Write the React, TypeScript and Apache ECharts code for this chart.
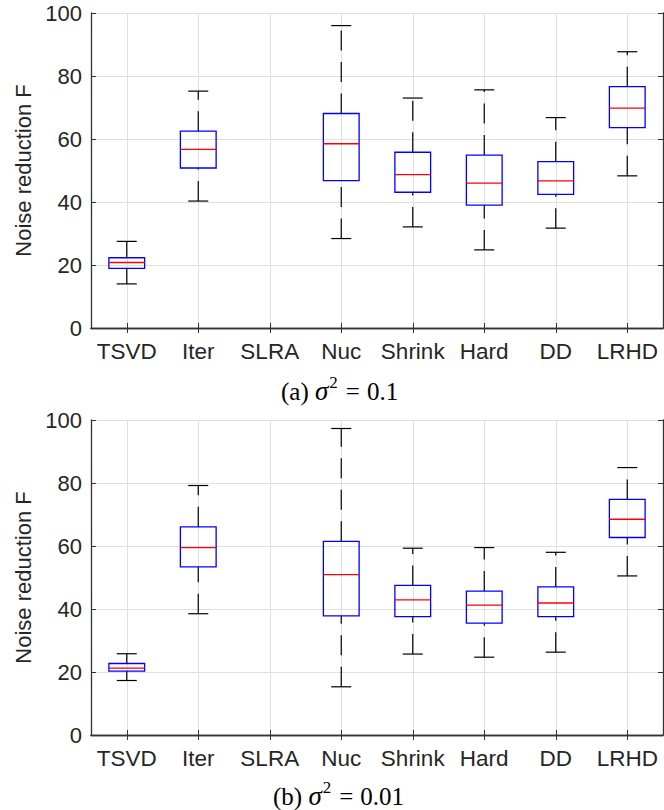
import React, { useEffect, useRef } from "react";
import * as echarts from "echarts";

// Methods compared along the x axis
const categories = ["TSVD", "Iter", "SLRA", "Nuc", "Shrink", "Hard", "DD", "LRHD"];
const yTicks = [0, 20, 40, 60, 80, 100];

// Panel (a): sigma^2 = 0.1 — whisker ends, quartiles and medians per method (SLRA has no data)
const lowA = [14.0, 40.3, null, 28.4, 32.1, 24.8, 31.7, 48.3];
const q1A = [18.9, 50.8, null, 46.8, 43.1, 39.0, 42.4, 63.6];
const medA = [20.8, 56.7, null, 58.5, 48.7, 46.0, 46.7, 69.8];
const q3A = [22.3, 62.5, null, 68.1, 55.8, 54.9, 52.8, 76.6];
const highA = [27.5, 75.2, null, 96.0, 73.0, 75.6, 66.8, 87.7];

// Panel (b): sigma^2 = 0.01
const lowB = [17.3, 38.5, null, 15.3, 25.7, 24.7, 26.3, 50.5];
const q1B = [20.3, 53.4, null, 37.8, 37.6, 35.5, 37.6, 62.7];
const medB = [21.2, 59.5, null, 50.9, 42.9, 41.2, 41.9, 68.5];
const q3B = [22.7, 66.1, null, 61.5, 47.5, 45.7, 47.0, 74.8];
const highB = [25.8, 79.2, null, 97.3, 59.3, 59.5, 58.0, 84.9];

type Num = number | null;

function buildBoxes(low: Num[], q1: Num[], med: Num[], q3: Num[], high: Num[]) {
  const out: number[][] = [];
  categories.forEach((_, i) => {
    if (low[i] == null) return;
    out.push([i, low[i] as number, q1[i] as number, med[i] as number, q3[i] as number, high[i] as number]);
  });
  return out;
}

const TEXT = "#262626";
const AXIS = "#333333";
const GRID = "#e0e0e0";
const SANS = "'Liberation Sans', Arial, Helvetica, sans-serif";
const SERIF = "'Liberation Serif', 'Times New Roman', serif";

// MATLAB-style box: dashed whiskers drawn upward, solid caps, blue box, red median
function renderBox(params: any, api: any) {
  const i = api.value(0);
  const pLow = api.coord([i, api.value(1)]);
  const pQ1 = api.coord([i, api.value(2)]);
  const pMed = api.coord([i, api.value(3)]);
  const pQ3 = api.coord([i, api.value(4)]);
  const pHigh = api.coord([i, api.value(5)]);
  const band = api.size([1, 0])[0];
  const half = band * 0.25;
  const capHalf = band * 0.14;
  const x = pLow[0];
  const whisker = { stroke: "#000", lineWidth: 1.2, lineDash: [20, 11.5], fill: null };
  const solid = { stroke: "#000", lineWidth: 1.2, fill: null };
  return {
    type: "group",
    children: [
      { type: "line", shape: { x1: x, y1: pLow[1], x2: x, y2: pQ1[1] }, style: whisker },
      { type: "line", shape: { x1: x, y1: pQ3[1], x2: x, y2: pHigh[1] }, style: whisker },
      { type: "line", shape: { x1: x - capHalf, y1: pLow[1], x2: x + capHalf, y2: pLow[1] }, style: solid },
      { type: "line", shape: { x1: x - capHalf, y1: pHigh[1], x2: x + capHalf, y2: pHigh[1] }, style: solid },
      {
        type: "rect",
        shape: { x: x - half, y: pQ3[1], width: half * 2, height: pQ1[1] - pQ3[1] },
        style: { stroke: "#0000ff", lineWidth: 1.3, fill: "none" },
      },
      {
        type: "line",
        shape: { x1: x - half, y1: pMed[1], x2: x + half, y2: pMed[1] },
        style: { stroke: "#ff0000", lineWidth: 1.3, fill: null },
      },
    ],
  };
}

function xAxesFor(gridIndex: number) {
  return [
    {
      type: "category",
      gridIndex,
      data: categories,
      position: "bottom",
      boundaryGap: true,
      axisLine: { show: true, lineStyle: { color: AXIS, width: 1.3 } },
      axisTick: { show: true, inside: true, alignWithLabel: true, length: 5, lineStyle: { color: AXIS } },
      axisLabel: { color: TEXT, fontSize: 22.5, fontFamily: SANS, margin: 12, interval: 0 },
      splitLine: { show: true, alignWithLabel: true, lineStyle: { color: GRID, width: 1 } },
    },
    {
      type: "category",
      gridIndex,
      data: categories,
      position: "top",
      boundaryGap: true,
      axisLine: { show: true, lineStyle: { color: AXIS, width: 1.3 } },
      axisTick: { show: true, inside: true, alignWithLabel: true, length: 5, lineStyle: { color: AXIS } },
      axisLabel: { show: false },
      splitLine: { show: false },
    },
  ];
}

function yAxesFor(gridIndex: number) {
  return [
    {
      type: "value",
      gridIndex,
      min: yTicks[0],
      max: yTicks[yTicks.length - 1],
      interval: yTicks[1] - yTicks[0],
      position: "left",
      name: "Noise reduction F",
      nameLocation: "middle",
      nameGap: 54,
      nameTextStyle: { color: TEXT, fontSize: 22, fontFamily: SANS },
      axisLine: { show: true, lineStyle: { color: AXIS, width: 1.3 } },
      axisTick: { show: true, inside: true, length: 5, lineStyle: { color: AXIS } },
      axisLabel: { color: TEXT, fontSize: 22, fontFamily: SANS, margin: 9 },
      splitLine: { show: true, lineStyle: { color: GRID, width: 1 } },
    },
    {
      type: "value",
      gridIndex,
      min: yTicks[0],
      max: yTicks[yTicks.length - 1],
      interval: yTicks[1] - yTicks[0],
      position: "right",
      axisLine: { show: true, lineStyle: { color: AXIS, width: 1.3 } },
      axisTick: { show: true, inside: true, length: 5, lineStyle: { color: AXIS } },
      axisLabel: { show: false },
      splitLine: { show: false },
    },
  ];
}

// Sub-figure caption: "(tag) σ² = value" in a serif face
function caption(tag: string, value: string, left: number, top: number) {
  return {
    type: "text",
    left,
    top,
    style: {
      text: `{n|(${tag}) }{s|σ}{p|2}{e|=}{n|${value}}`,
      rich: {
        n: { fontFamily: SERIF, fontSize: 25, color: "#000", lineHeight: 30, verticalAlign: "bottom" },
        s: { fontFamily: SERIF, fontSize: 27, fontStyle: "italic", color: "#000", lineHeight: 30, verticalAlign: "bottom" },
        p: { fontFamily: SERIF, fontSize: 17, color: "#000", lineHeight: 30, verticalAlign: "top", padding: [0, 1, 0, 1] },
        e: { fontFamily: SERIF, fontSize: 25, color: "#000", lineHeight: 30, verticalAlign: "bottom", padding: [0, 7, 0, 7] },
      },
    },
  };
}

export default function App() {
  const ref = useRef<HTMLDivElement>(null);

  useEffect(() => {
    if (!ref.current) return;
    const chart = echarts.init(ref.current, null, { renderer: "svg" });
    chart.setOption({
      animation: false,
      backgroundColor: "#fff",
      grid: [
        { left: 91, top: 13, width: 572, height: 315 },
        { left: 91, top: 420, width: 572, height: 315 },
      ],
      xAxis: [...xAxesFor(0), ...xAxesFor(1)],
      yAxis: [...yAxesFor(0), ...yAxesFor(1)],
      series: [
        {
          type: "custom",
          xAxisIndex: 0,
          yAxisIndex: 0,
          renderItem: renderBox,
          data: buildBoxes(lowA, q1A, medA, q3A, highA),
          clip: false,
        },
        {
          type: "custom",
          xAxisIndex: 2,
          yAxisIndex: 2,
          renderItem: renderBox,
          data: buildBoxes(lowB, q1B, medB, q3B, highB),
          clip: false,
        },
      ],
      graphic: [caption("a", "0.1", 281, 374), caption("b", "0.01", 273, 779)],
    });
    return () => chart.dispose();
  }, []);

  return (
    <div
      ref={ref}
      style={{ position: "absolute", left: 0, top: 0, width: 664, height: 810 }}
    />
  );
}
